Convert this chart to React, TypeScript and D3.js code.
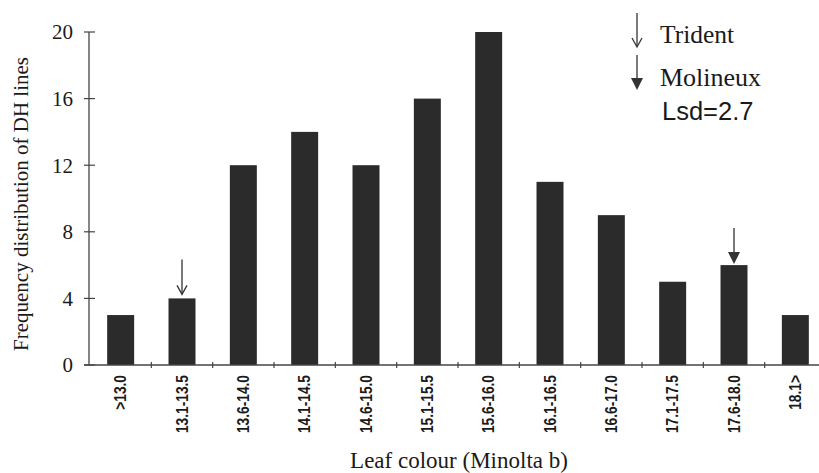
import React from "react";
import * as d3 from "d3";

const categories = [">13.0", "13.1-13.5", "13.6-14.0", "14.1-14.5", "14.6-15.0", "15.1-15.5", "15.6-16.0", "16.1-16.5", "16.6-17.0", "17.1-17.5", "17.6-18.0", "18.1>"];
const counts = [3, 4, 12, 14, 12, 16, 20, 11, 9, 5, 6, 3];
const yTicks = [0, 4, 8, 12, 16, 20];
const tridentCategory = "13.1-13.5";
const molineuxCategory = "17.6-18.0";
const lsdLabel = "Lsd=2.7";

const W = 819;
const H = 473;
const left = 90;
const right = 826;
const top = 32;
const bottom = 365;

const serif = "'Liberation Serif', 'Times New Roman', serif";
const sans = "'Liberation Sans', Arial, sans-serif";

function OpenArrow({ x, y1, y2 }: { x: number; y1: number; y2: number }) {
  return (
    <g stroke="#333" strokeWidth={1.3} fill="none">
      <line x1={x} y1={y1} x2={x} y2={y2} />
      <polyline points={`${x - 5},${y2 - 9} ${x},${y2} ${x + 5},${y2 - 9}`} />
    </g>
  );
}

function FilledArrow({ x, y1, y2 }: { x: number; y1: number; y2: number }) {
  return (
    <g>
      <line x1={x} y1={y1} x2={x} y2={y2 - 10} stroke="#333" strokeWidth={1.3} />
      <polygon points={`${x - 6},${y2 - 12} ${x + 6},${y2 - 12} ${x},${y2}`} fill="#333" />
    </g>
  );
}

export default function App() {
  const x = d3.scaleBand<string>().domain(categories).range([left, right]).paddingInner(0.56).paddingOuter(0.28);
  const y = d3.scaleLinear().domain([0, 20]).range([bottom, top]);
  const step = x.step();
  const gap = (step - x.bandwidth()) / 2;
  const boundaries = categories.slice(1).map((c) => (x(c) as number) - gap);

  const cx = (c: string) => (x(c) as number) + x.bandwidth() / 2;
  const valueOf = (c: string) => counts[categories.indexOf(c)];

  return (
    <svg width={W} height={H} style={{ position: "absolute", left: 0, top: 0, background: "#fff" }}>
      {/* bars */}
      {categories.map((c, i) => (
        <rect key={c} x={x(c)} y={y(counts[i])} width={x.bandwidth()} height={bottom - y(counts[i])} fill="#2b2b2b" />
      ))}

      {/* y axis */}
      <line x1={89} y1={top} x2={89} y2={bottom} stroke="#444" strokeWidth={1.3} />
      {yTicks.map((t) => (
        <g key={t}>
          <line x1={84} x2={95} y1={y(t)} y2={y(t)} stroke="#444" strokeWidth={1.2} />
          <text x={73} y={y(t)} dy="0.35em" textAnchor="end" fontFamily={serif} fontSize={21} fill="#1a1a1a">{t}</text>
        </g>
      ))}

      {/* x axis */}
      <line x1={84} y1={bottom} x2={W} y2={bottom} stroke="#444" strokeWidth={1.3} />
      {boundaries.map((b, i) => (
        <line key={i} x1={b} x2={b} y1={bottom - 3} y2={bottom + 3} stroke="#444" strokeWidth={1.2} />
      ))}
      {categories.map((c) => (
        <text key={c} transform={`translate(${cx(c) + 5.5},375) rotate(-90) scale(0.86,1)`} textAnchor="end" fontFamily={sans} fontWeight="bold" fontSize={16} fill="#1a1a1a">{c}</text>
      ))}

      {/* axis titles */}
      <text x={459} y={468} textAnchor="middle" fontFamily={serif} fontSize={23} fill="#1a1a1a">Leaf colour (Minolta b)</text>
      <text transform={`translate(28,204) rotate(-90)`} textAnchor="middle" fontFamily={serif} fontSize={21} fill="#1a1a1a">Frequency distribution of DH lines</text>

      {/* cultivar markers */}
      <OpenArrow x={cx(tridentCategory)} y1={y(valueOf(tridentCategory)) - 39} y2={y(valueOf(tridentCategory)) - 4} />
      <FilledArrow x={cx(molineuxCategory)} y1={y(valueOf(molineuxCategory)) - 37} y2={y(valueOf(molineuxCategory)) - 1} />

      {/* legend */}
      <OpenArrow x={637} y1={13} y2={47} />
      <text x={660} y={43} fontFamily={serif} fontSize={25.5} fill="#1a1a1a">Trident</text>
      <FilledArrow x={637} y1={55} y2={90} />
      <text x={660} y={86} fontFamily={serif} fontSize={26} fill="#1a1a1a">Molineux</text>
      <text x={662} y={120} fontFamily={sans} fontSize={25.5} fill="#1a1a1a">{lsdLabel}</text>
    </svg>
  );
}
